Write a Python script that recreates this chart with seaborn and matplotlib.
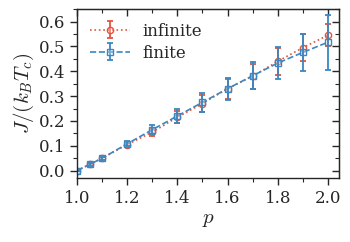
import matplotlib
matplotlib.use("Agg")
import matplotlib.pyplot as plt
import seaborn as sns
from matplotlib.legend_handler import HandlerTuple
from matplotlib.ticker import MultipleLocator

p = [1.0, 1.05, 1.1, 1.2, 1.3, 1.4, 1.5, 1.6, 1.7, 1.8, 1.9, 2.0]
infinite = [0.0, 0.025, 0.05, 0.105, 0.155, 0.215, 0.27, 0.33, 0.38, 0.44, 0.495, 0.545]
infinite_err = [0.003, 0.004, 0.006, 0.01, 0.015, 0.025, 0.035, 0.04, 0.05, 0.055, 0.055, 0.045]
finite = [0.0, 0.025, 0.05, 0.108, 0.165, 0.22, 0.275, 0.33, 0.382, 0.433, 0.476, 0.517]
finite_err = [0.003, 0.005, 0.006, 0.01, 0.018, 0.03, 0.037, 0.044, 0.055, 0.065, 0.075, 0.11]

sns.set_style("ticks")
plt.rcParams["font.family"] = ["DejaVu Serif"]
plt.rcParams["mathtext.fontset"] = "cm"

red = "#e5533f"
blue = "#3a88c2"

fig = plt.figure(figsize=(3.5, 2.42), dpi=100)
ax = fig.add_axes([0.22, 0.264, 0.749, 0.698])

series = [(infinite, infinite_err, red, "o", ":", "infinite"),
          (finite, finite_err, blue, "s", "--", "finite")]

leg_handles = []
labels = []
for y, e, c, mk, ls, lab in series:
    sns.lineplot(x=p, y=y, ax=ax, color=c, linestyle=ls, linewidth=1.2,
                 marker=mk, markersize=4.5, markerfacecolor=(1, 1, 1, 0.3),
                 markeredgecolor=c, markeredgewidth=1.0, legend=False)
    eb = ax.errorbar(p, y, yerr=e, fmt="none", ecolor=c, elinewidth=1.3,
                     capsize=2.5, capthick=1.3)
    ln, = ax.plot([], [], color=c, linestyle=ls, linewidth=1.2, marker=mk,
                  markersize=4.5, markerfacecolor=(1, 1, 1, 0.3),
                  markeredgecolor=c, markeredgewidth=1.0)
    leg_handles.append((eb, ln))
    labels.append(lab)

ax.legend(leg_handles, labels, handler_map={tuple: HandlerTuple(ndivide=1)},
          loc="upper left", frameon=False, fontsize=12, handlelength=2.4,
          handletextpad=0.7, borderaxespad=0.4, labelspacing=0.3)

ax.set_xlim(1.0, 2.045)
ax.set_ylim(-0.03, 0.65)
ax.xaxis.set_major_locator(MultipleLocator(0.2))
ax.xaxis.set_minor_locator(MultipleLocator(0.1))
ax.yaxis.set_major_locator(MultipleLocator(0.1))
ax.yaxis.set_minor_locator(MultipleLocator(0.05))
ax.tick_params(which="major", direction="out", length=5, width=1.0, labelsize=12)
ax.tick_params(which="minor", direction="out", length=3, width=0.8)
for s in ax.spines.values():
    s.set_linewidth(1.0)

sx = ax.secondary_xaxis("top")
sx.xaxis.set_major_locator(MultipleLocator(0.2))
sx.xaxis.set_minor_locator(MultipleLocator(0.1))
sx.tick_params(which="major", direction="in", length=5, width=1.0, labeltop=False)
sx.tick_params(which="minor", direction="in", length=3, width=0.8)
sy = ax.secondary_yaxis("right")
sy.yaxis.set_major_locator(MultipleLocator(0.1))
sy.yaxis.set_minor_locator(MultipleLocator(0.05))
sy.tick_params(which="major", direction="in", length=5, width=1.0, labelright=False)
sy.tick_params(which="minor", direction="in", length=3, width=0.8)

ax.set_xlabel(r"$p$", fontsize=15, labelpad=2)
ax.set_ylabel(r"$J/(k_BT_c)$", fontsize=15, labelpad=2)

fig.savefig("out.png", dpi=100)
